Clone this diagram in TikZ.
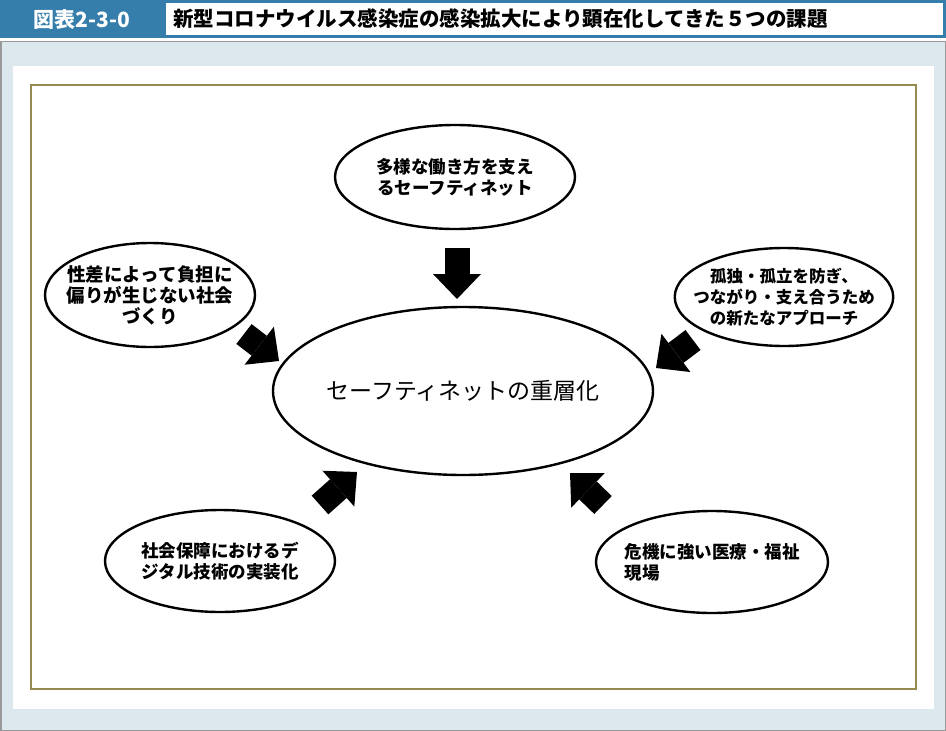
\documentclass[tikz,border=0pt]{standalone}
\usepackage{fontspec}
\setmainfont{Noto Sans CJK JP}
\usetikzlibrary{shapes.geometric,arrows.meta}

\definecolor{headblue}{HTML}{357DAA}
\definecolor{panelgray}{HTML}{DDE7EE}
\definecolor{framegold}{HTML}{978A4E}

\tikzset{
  bubble/.style={ellipse, draw, line width=2.4pt, align=center, inner sep=0pt,
    font=\bfseries\fontsize{17.5}{21}\selectfont},
  bigarrow/.style={line width=25pt, -{Triangle[length=25pt,width=48pt,line width=0pt]}},
}

\begin{document}
\begin{tikzpicture}[x=1pt,y=-1pt]
  \useasboundingbox (0,0) rectangle (946,731);
  % header
  \fill[headblue] (0,0) rectangle (946,38);
  \fill[white] (166,3) rectangle (943,35);
  \node[text=white, font=\bfseries\fontsize{21}{21}\selectfont] (fig) at (82,19) {図表2-3-0};
  \node[anchor=west, font=\bfseries\fontsize{20.5}{21}\selectfont, inner sep=0pt] (title) at (173,19)
    {新型コロナウイルス感染症の感染拡大により顕在化してきた５つの課題};
  % panel
  \draw[gray!80, line width=1.5pt, fill=panelgray] (0.75,41.5) rectangle (945.25,730.25);
  \fill[white] (13,66) rectangle (934,709);
  \draw[framegold, line width=2.5pt] (31,85) rectangle (916,689);

  % bubbles
  \node[bubble, minimum width=380pt, minimum height=168pt, inner xsep=-4pt,
    font=\fontsize{23}{26}\selectfont] (core) at (463,391)
    {セーフティネットの重層化};
  \node[bubble, minimum width=240pt, minimum height=104pt] (work) at (455,177)
    {多様な働き方を支え\\るセーフティネット};
  \node[bubble, minimum width=210pt, minimum height=104pt, inner xsep=-9pt,
    font=\bfseries\fontsize{18.5}{21}\selectfont] (gender) at (150,295)
    {性差によって負担に\\偏りが生じない社会\\づくり};
  \node[bubble, minimum width=218pt, minimum height=98pt, inner xsep=-13.5pt,
    font=\bfseries\fontsize{16.5}{21}\selectfont] (lonely) at (784,297)
    {孤独・孤立を防ぎ、\\つながり・支え合うため\\の新たなアプローチ};
  \node[bubble, minimum width=230pt, minimum height=102pt] (digital) at (220,561)
    {社会保障におけるデ\\ジタル技術の実装化};
  \node[bubble, minimum width=232pt, minimum height=102pt, inner xsep=-5.5pt, align=left] (care) at (712,562)
    {危機に強い医療・福祉\\現場};

  % arrows
  \coordinate (workS) at (457,248);   \coordinate (workE) at (457,299);
  \coordinate (genderS) at (244,334); \coordinate (genderE) at (279,361);
  \coordinate (lonelyS) at (693,340); \coordinate (lonelyE) at (656,368);
  \coordinate (digitalS) at (320,505); \coordinate (digitalE) at (357,472);
  \coordinate (careS) at (603,505);   \coordinate (careE) at (570,473);
  \draw[bigarrow] (workS) -- (workE);
  \draw[bigarrow] (genderS) -- (genderE);
  \draw[bigarrow] (lonelyS) -- (lonelyE);
  \draw[bigarrow] (digitalS) -- (digitalE);
  \draw[bigarrow] (careS) -- (careE);
\end{tikzpicture}
\end{document}
